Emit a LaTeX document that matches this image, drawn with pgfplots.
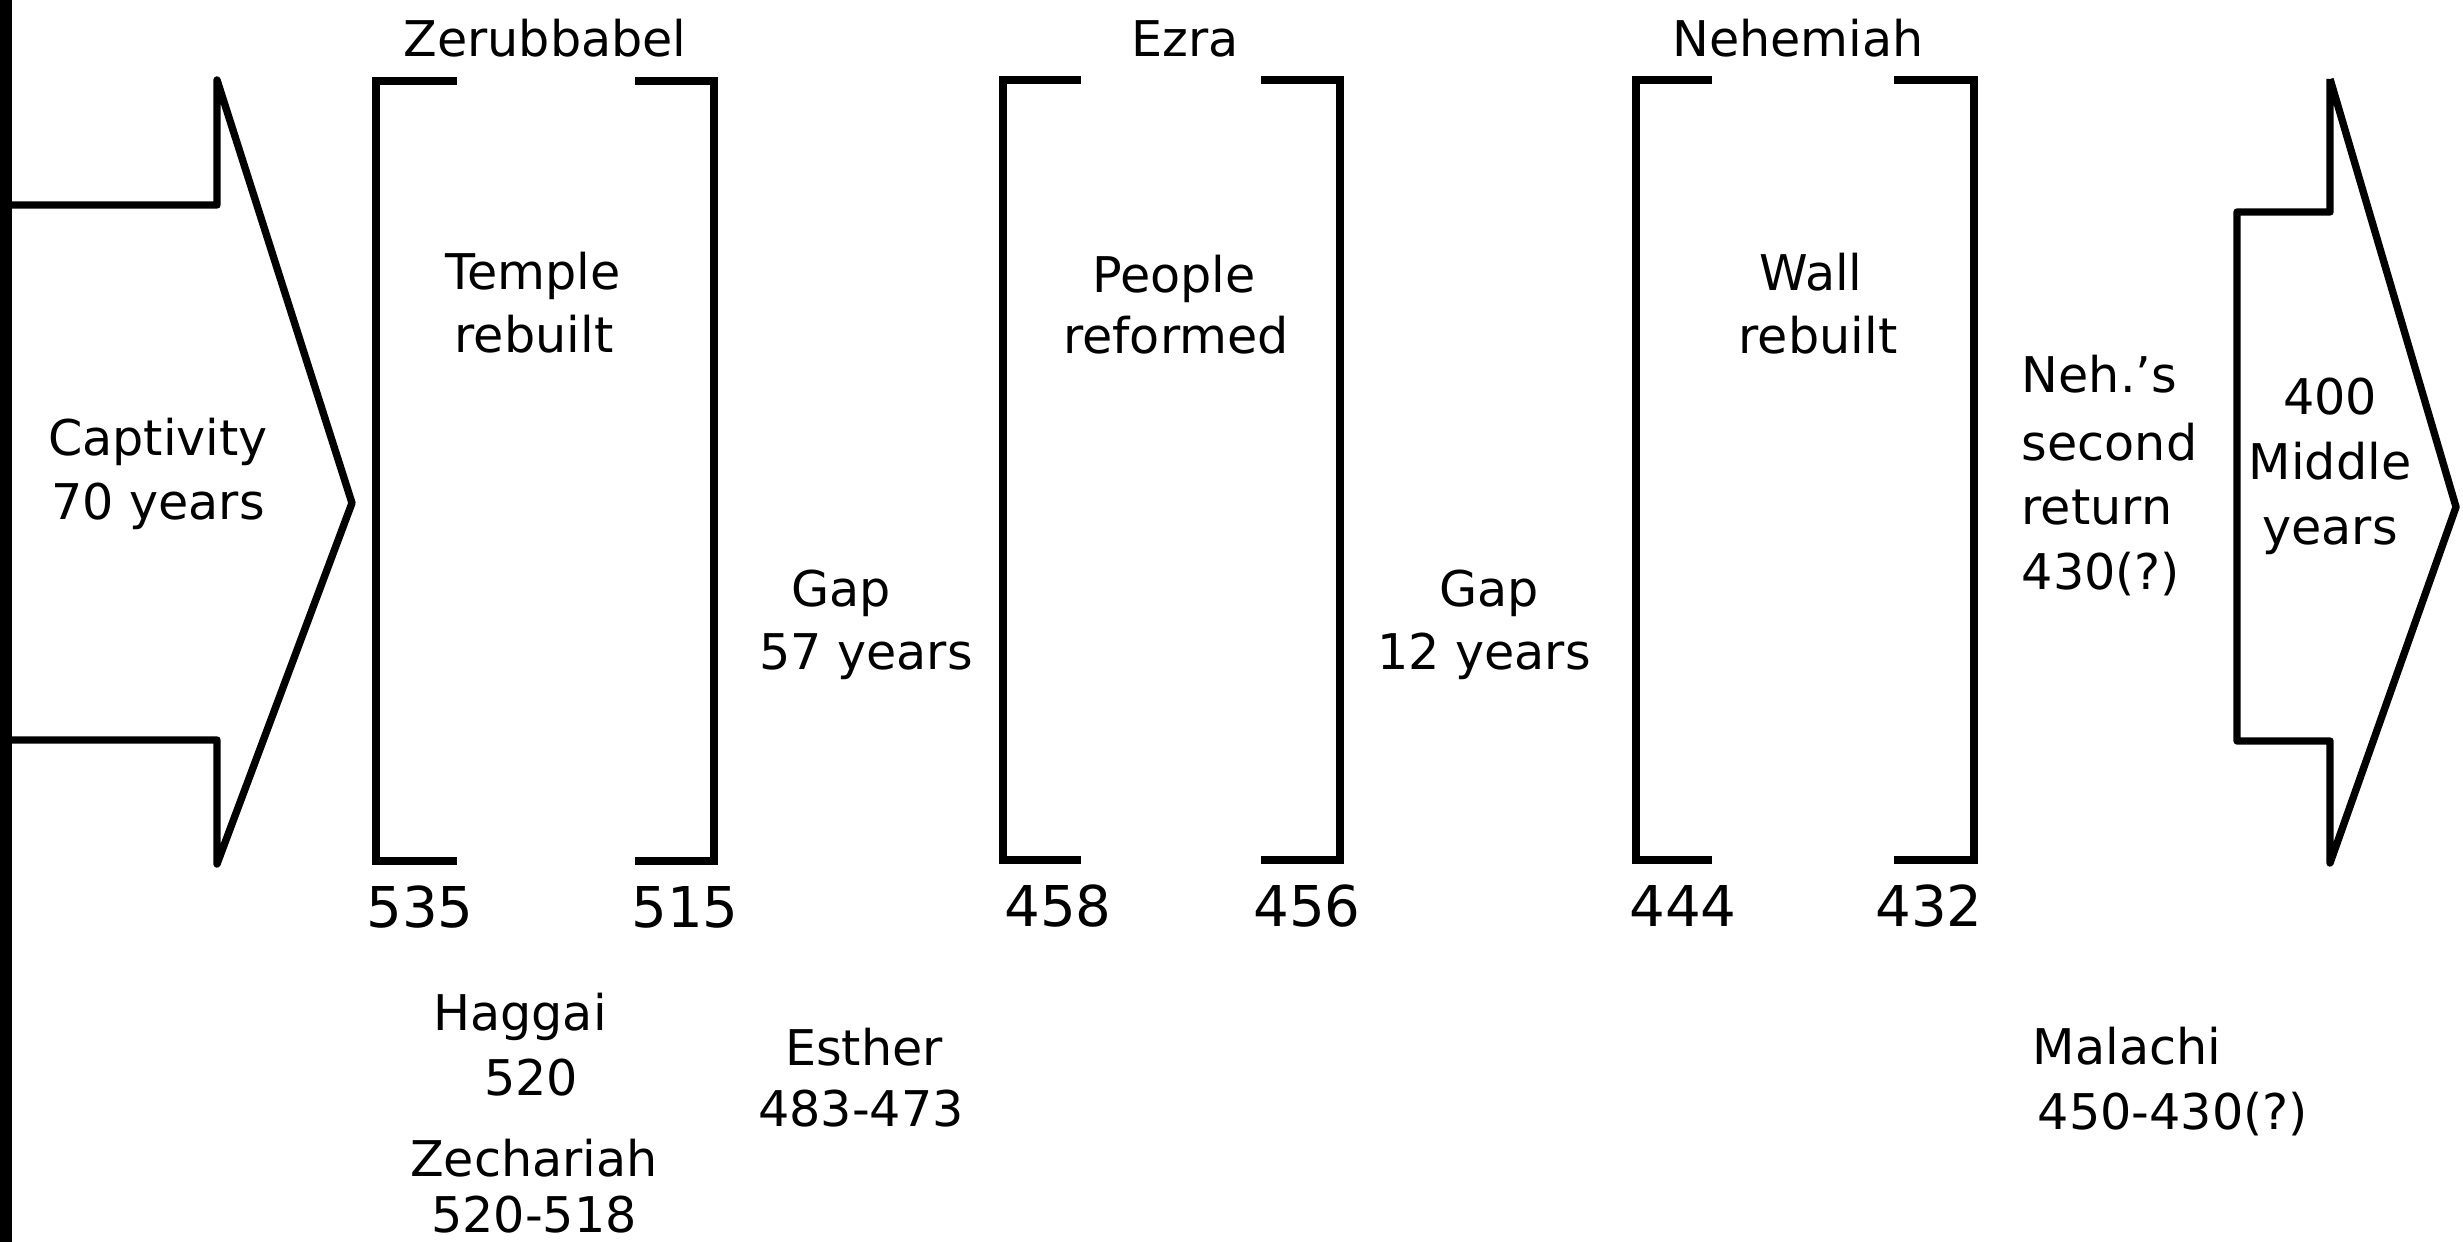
\documentclass[border=0pt]{standalone}
\usepackage{pgfplots}
\pgfplotsset{compat=1.18}
\usepackage{fontspec}
\setmainfont{DejaVu Sans}
\begin{document}
\begin{tikzpicture}
\begin{axis}[scale only axis, width=24.63cm, height=12.42cm,
  xmin=0, xmax=2463, ymin=0, ymax=1242, y dir=reverse,
  hide axis, clip=false, anchor=south west, at={(0,0)}]
% left border line
\addplot[black, line width=3.4pt] coordinates {(6,0) (6,1242)};
% left arrow (Captivity)
\addplot[black, line width=2.1pt, line join=round] coordinates {(0,205) (217,205) (217,80) (352,503) (217,864) (217,740) (0,740)};
% right arrow (400 middle years)
\addplot[black, line width=2.1pt, line join=round] coordinates {(2330,79) (2330,212) (2237,212) (2237,741) (2330,741) (2330,863) (2456,507) (2330,79)};
% Zerubbabel bracket
\addplot[black, line width=2.1pt, line join=miter] coordinates {(457,81) (376,81) (376,861) (457,861)};
\addplot[black, line width=2.1pt, line join=miter] coordinates {(635,81) (714,81) (714,861) (635,861)};
% Ezra bracket
\addplot[black, line width=2.1pt, line join=miter] coordinates {(1081,80) (1003,80) (1003,860) (1081,860)};
\addplot[black, line width=2.1pt, line join=miter] coordinates {(1261,80) (1340,80) (1340,860) (1261,860)};
% Nehemiah bracket
\addplot[black, line width=2.1pt, line join=miter] coordinates {(1712,80) (1636,80) (1636,860) (1712,860)};
\addplot[black, line width=2.1pt, line join=miter] coordinates {(1894,80) (1974,80) (1974,860) (1894,860)};
% labels
\tikzset{lab/.style={anchor=base, inner sep=0pt, font=\fontsize{14}{16}\selectfont},
         num/.style={anchor=base, inner sep=0pt, font=\fontsize{16}{18}\selectfont}}
\node[lab] at (axis cs:545,57) {Zerubbabel};
\node[lab] at (axis cs:1185,57) {Ezra};
\node[lab] at (axis cs:1798,57) {Nehemiah};
\node[lab] at (axis cs:533,290) {Temple};
\node[lab] at (axis cs:534,353) {rebuilt};
\node[lab] at (axis cs:1174,293) {People};
\node[lab] at (axis cs:1176,354) {reformed};
\node[lab] at (axis cs:1811,291) {Wall};
\node[lab] at (axis cs:1818,354) {rebuilt};
\node[lab] at (axis cs:158,456) {Captivity};
\node[lab] at (axis cs:158,520) {70 years};
\node[lab] at (axis cs:841,606) {Gap};
\node[lab] at (axis cs:866,669) {57 years};
\node[lab] at (axis cs:1489,606) {Gap};
\node[lab] at (axis cs:1484,669) {12 years};
\node[lab, anchor=base west] at (axis cs:2021,393) {Neh.'s};
\node[lab, anchor=base west] at (axis cs:2021,461) {second};
\node[lab, anchor=base west] at (axis cs:2021,525) {return};
\node[lab, anchor=base west] at (axis cs:2021,590) {430(?)};
\node[lab] at (axis cs:2330,415) {400};
\node[lab] at (axis cs:2330,480) {Middle};
\node[lab] at (axis cs:2330,545) {years};
\node[num] at (axis cs:420,927) {535};
\node[num] at (axis cs:685,927) {515};
\node[num] at (axis cs:1058,926) {458};
\node[num] at (axis cs:1307,926) {456};
\node[num] at (axis cs:1683,926) {444};
\node[num] at (axis cs:1929,926) {432};
\node[lab] at (axis cs:520,1030) {Haggai};
\node[lab] at (axis cs:531,1095) {520};
\node[lab] at (axis cs:534,1176) {Zechariah};
\node[lab] at (axis cs:534,1232) {520-518};
\node[lab] at (axis cs:864,1065) {Esther};
\node[lab] at (axis cs:861,1126) {483-473};
\node[lab] at (axis cs:2127,1064) {Malachi};
\node[lab] at (axis cs:2173,1129) {450-430(?)};
\end{axis}
\pgfresetboundingbox
\path (0,0) rectangle (24.63cm,12.42cm);
\end{tikzpicture}
\end{document}
